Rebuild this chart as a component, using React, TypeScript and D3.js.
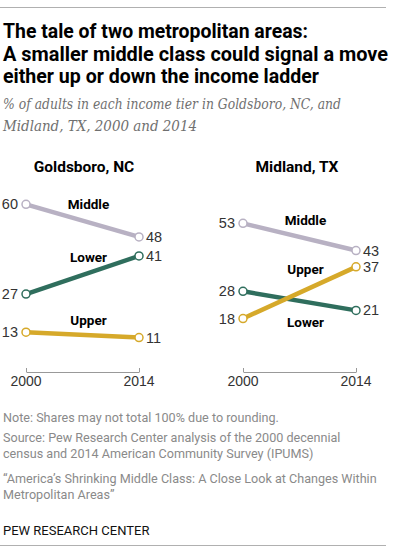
import React, { useEffect, useRef } from 'react';
import * as d3 from 'd3';

// values
const years = [2000, 2014];
const tiers = ['Middle', 'Lower', 'Upper'];
const goldsboro = [[60, 48], [27, 41], [13, 11]];
const midland = [[53, 43], [28, 21], [18, 37]];
const colors = { Middle: '#b8b1c3', Lower: '#2f6e5d', Upper: '#d6a92a' };

const titleLines = [
  'The tale of two metropolitan areas:',
  'A smaller middle class could signal a move',
  'either up or down the income ladder',
];
const subtitleLines = [
  '% of adults in each income tier in Goldsboro, NC, and',
  'Midland, TX, 2000 and 2014',
];
const noteLines = [
  ['Note: Shares may not total 100% due to rounding.'],
  ['Source: Pew Research Center analysis of the 2000 decennial', 'census and 2014 American Community Survey (IPUMS)'],
  ['\u201CAmerica\u2019s Shrinking Middle Class: A Close Look at Changes Within', 'Metropolitan Areas\u201D'],
];

const App = () => {
  const svgRef = useRef<SVGSVGElement>(null);

  useEffect(() => {
    const svg = d3.select(svgRef.current);
    svg.selectAll('*').remove();
    const W = 394;
    const H = 554;
    svg.attr('width', W).attr('height', H);

    svg.append('line')
      .attr('x1', 0).attr('x2', 386).attr('y1', 7.5).attr('y2', 7.5)
      .attr('stroke', '#b0b0b0').attr('stroke-width', 1);

    // title
    const titleW = [305, 385, 316];
    titleLines.forEach((t, i) => {
      svg.append('text')
        .attr('x', 3).attr('y', 38 + i * 22.5)
        .attr('font-family', 'Roboto, sans-serif')
        .attr('font-weight', 700)
        .attr('font-size', 19.5)
        .attr('fill', '#000')
        .attr('textLength', titleW[i])
        .attr('lengthAdjust', 'spacingAndGlyphs')
        .text(t);
    });

    subtitleLines.forEach((t, i) => {
      svg.append('text')
        .attr('x', 3).attr('y', 109 + i * 22)
        .attr('font-family', 'DejaVu Serif, serif')
        .attr('font-style', 'italic')
        .attr('font-size', 14)
        .attr('fill', '#707070')
        .attr('textLength', i === 0 ? 338 : 194)
        .attr('lengthAdjust', 'spacingAndGlyphs')
        .text(t);
    });

    // shared y scale
    const y = d3.scaleLinear().domain([0, 60]).range([367.5, 204.3]);

    const panels = [
      { name: 'Goldsboro, NC', data: goldsboro, x0: 26, x1: 139, titleX: 84, offsets: [-12, -13, -10] },
      { name: 'Midland, TX', data: midland, x0: 243, x1: 356, titleX: 297, offsets: [-12, 26, -19] },
    ];

    panels.forEach(p => {
      const x = d3.scaleLinear().domain(d3.extent(years) as [number, number]).range([p.x0, p.x1]);
      const g = svg.append('g');

      g.append('text')
        .attr('x', p.titleX).attr('y', 172)
        .attr('text-anchor', 'middle')
        .attr('font-family', 'Roboto, sans-serif')
        .attr('font-weight', 700)
        .attr('font-size', 15.5)
        .attr('fill', '#000')
        .text(p.name);

      // axis
      const axis = g.append('g').attr('transform', 'translate(0,372)')
        .call(d3.axisTop(x).tickValues(years).tickSize(4).tickSizeOuter(0).tickFormat(() => ''));
      axis.selectAll('path, line').attr('stroke', '#999');

      years.forEach(yr => {
        g.append('text')
          .attr('x', x(yr)).attr('y', 386)
          .attr('text-anchor', 'middle')
          .attr('font-family', 'Liberation Sans, Arial, sans-serif')
          .attr('font-size', 14)
          .attr('fill', '#333')
          .text(yr);
      });

      const line = d3.line<number>().x((_, i) => x(years[i])).y(d => y(d));

      tiers.forEach((tier, ti) => {
        const vals = p.data[ti];
        g.append('path')
          .datum(vals)
          .attr('d', line)
          .attr('fill', 'none')
          .attr('stroke', colors[tier])
          .attr('stroke-width', 4.5);
      });

      tiers.forEach((tier, ti) => {
        const vals = p.data[ti];
        const c = colors[tier];
        vals.forEach((v, i) => {
          g.append('circle')
            .attr('cx', x(years[i])).attr('cy', y(v)).attr('r', 4)
            .attr('fill', '#fff')
            .attr('stroke', c)
            .attr('stroke-width', 1.5);
          g.append('text')
            .attr('x', i === 0 ? x(years[i]) - 8 : x(years[i]) + 7)
            .attr('y', y(v) + 5)
            .attr('text-anchor', i === 0 ? 'end' : 'start')
            .attr('font-family', 'Liberation Sans, Arial, sans-serif')
            .attr('font-size', 14.5)
            .attr('fill', '#333')
            .text(v);
        });
        const midX = (x(years[0]) + x(years[1])) / 2 + 6;
        const midY = y((vals[0] + vals[1]) / 2);
        g.append('text')
          .attr('x', midX).attr('y', midY + p.offsets[ti])
          .attr('text-anchor', 'middle')
          .attr('font-family', 'Roboto, sans-serif')
          .attr('font-weight', 700)
          .attr('font-size', 13.5)
          .attr('fill', '#000')
          .text(tier);
      });
    });

    // notes
    let ny = 422;
    noteLines.forEach(block => {
      block.forEach((t, i) => {
        svg.append('text')
          .attr('x', 3).attr('y', ny + i * 16)
          .attr('font-family', 'Roboto, sans-serif')
          .attr('font-size', 12.6)
          .attr('fill', '#8a8a8a')
          .text(t);
      });
      ny += (block.length - 1) * 16 + 20 + (block.length > 1 ? 5 : 0);
    });

    svg.append('text')
      .attr('x', 3).attr('y', 535)
      .attr('font-family', 'Roboto, sans-serif')
      .attr('font-size', 13)
      .attr('fill', '#111')
      .text('PEW RESEARCH CENTER');

    svg.append('line')
      .attr('x1', 0).attr('x2', 386).attr('y1', 545.5).attr('y2', 545.5)
      .attr('stroke', '#b0b0b0').attr('stroke-width', 1);
  }, []);

  return (
    <svg ref={svgRef} style={{ position: 'absolute', left: 0, top: 0, background: '#fff' }}></svg>
  );
};

export default App;
